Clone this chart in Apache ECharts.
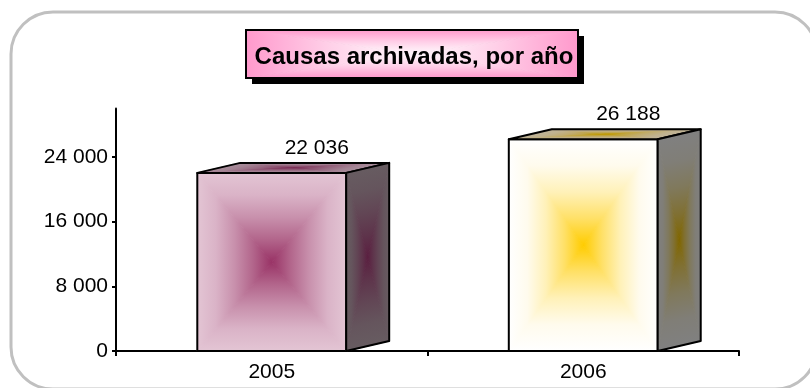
<!DOCTYPE html>
<html>
<head>
<meta charset="utf-8">
<script src="https://cdn.jsdelivr.net/npm/echarts@6/dist/echarts.min.js"></script>
<style>
  html, body { margin: 0; padding: 0; background: #fff; }
  #chart { width: 810px; height: 388px; }
</style>
</head>
<body>
<div id="chart"></div>
<script>
const chartTitle = 'Causas archivadas, por año';
const years = ['2005', '2006'];
const archived = [22036, 26188];
const yTicks = [0, 8000, 16000, 24000];

const FONT = '"Liberation Sans", Arial, sans-serif';
const DEPTH_X = 43, DEPTH_Y = 10;

// edge and centre colour of each face, [front, top, side]
const barShades = [
  [['#e3c5d4', '#993366'], ['#a98f9c', '#7a2c55'], ['#675c61', '#5a1f40']],
  [['#ffffff', '#ffcc00'], ['#c0b49a', '#bf9900'], ['#808080', '#806600']],
];
const titleShade = ['#ff99cc', '#fff4fa'];
// how fast the colour moves towards the centre, at offsets 0, .25, .5, .75, 1
const barCurves = [[0, 0.12, 0.36, 0.66, 1], [0, 0.07, 0.28, 0.6, 1]];
const titleCurve = [0, 0.3, 0.6, 0.85, 1];

const groupNumber = v => String(v).replace(/\B(?=(\d{3})+$)/g, ' ');

function mix(c0, c1, t) {
  const ch = (c, k) => parseInt(c.substr(1 + k * 2, 2), 16);
  const out = [0, 1, 2].map(k => Math.round(ch(c0, k) + (ch(c1, k) - ch(c0, k)) * t));
  return 'rgb(' + out.join(',') + ')';
}

// one triangle of a "box" gradient: pale along edge a-b, darkest at the centre c
function wedge(a, b, c, colors, curve) {
  const ex = b[0] - a[0], ey = b[1] - a[1];
  const t = ((c[0] - a[0]) * ex + (c[1] - a[1]) * ey) / (ex * ex + ey * ey);
  const fill = {
    type: 'linear', global: true,
    x: a[0] + t * ex, y: a[1] + t * ey, x2: c[0], y2: c[1],
    colorStops: curve.map((m, k) => ({ offset: k / 4, color: mix(colors[0], colors[1], m) })),
  };
  // thin stroke in the same gradient hides the seams between triangles
  return {
    type: 'polygon',
    shape: { points: [a, b, c] },
    style: { fill: fill, stroke: fill, lineWidth: 1 },
  };
}

function wedges(pts, colors, curve) {
  const c = [(pts[0][0] + pts[2][0]) / 2, (pts[0][1] + pts[2][1]) / 2];
  return pts.map((p, i) => wedge(p, pts[(i + 1) % 4], c, colors, curve));
}

// quad with the box gradient and a black outline on top
function face(pts, colors, curve) {
  return wedges(pts, colors, curve).concat({
    type: 'polygon',
    shape: { points: pts },
    style: { fill: 'none', stroke: '#000', lineWidth: 2, lineJoin: 'round' },
  });
}

function renderBox(params, api) {
  const i = api.value(0);
  const top = api.coord([i, api.value(1)]);
  const base = api.coord([i, 0]);
  const w = api.size([1, 0])[0] * 0.478;
  const l = top[0] - w / 2, r = top[0] + w / 2;
  const dx = DEPTH_X, dy = DEPTH_Y;
  const shades = barShades[i];
  const curve = barCurves[i];
  return {
    type: 'group',
    children: [
      ...face([[l, top[1]], [r, top[1]], [r, base[1]], [l, base[1]]], shades[0], curve),
      ...face([[l, top[1]], [l + dx, top[1] - dy], [r + dx, top[1] - dy], [r, top[1]]], shades[1], curve),
      ...face([[r, top[1]], [r + dx, top[1] - dy], [r + dx, base[1] - dy], [r, base[1]]], shades[2], curve),
      {
        type: 'text',
        style: {
          x: top[0] + 45, y: top[1] - dy - 15,
          text: groupNumber(api.value(1)),
          font: '21px ' + FONT,
          fill: '#000', align: 'center', verticalAlign: 'middle',
        },
      },
    ],
  };
}

const titleBox = [[246, 30], [578, 30], [578, 78], [246, 78]];

const chart = echarts.init(document.getElementById('chart'), null, { renderer: 'canvas' });
chart.setOption({
  animation: false,
  backgroundColor: '#fff',
  title: {
    text: chartTitle,
    left: 409, top: 52, textAlign: 'center', textVerticalAlign: 'middle',
    z: 100,
    textStyle: { fontFamily: FONT, fontSize: 24, fontWeight: 'bold', color: '#000' },
  },
  graphic: [
    {
      type: 'rect', silent: true, z: -10,
      shape: { x: 11, y: 12, width: 806, height: 377, r: 42 },
      style: { fill: '#fff', stroke: '#c0c0c0', lineWidth: 3 },
    },
    {
      type: 'rect', silent: true, z: 1,
      shape: { x: 252, y: 36, width: 332, height: 48 },
      style: { fill: '#000' },
    },
    {
      type: 'group', silent: true, z: 2,
      children: wedges(titleBox, titleShade, titleCurve).map(w => Object.assign(w, { z: 2 })),
    },
    {
      type: 'polygon', silent: true, z: 3,
      shape: { points: titleBox },
      style: { fill: 'none', stroke: '#000', lineWidth: 2 },
    },
  ],
  grid: { left: 116, right: 71, top: 108.5, bottom: 37 },
  xAxis: {
    type: 'category',
    data: years,
    axisLine: { lineStyle: { color: '#000', width: 2 } },
    axisTick: { show: true, length: 5, lineStyle: { color: '#000', width: 2 } },
    axisLabel: { color: '#000', fontFamily: FONT, fontSize: 21, margin: 11 },
  },
  yAxis: {
    type: 'value',
    min: 0, max: 30000,
    axisLine: { show: true, lineStyle: { color: '#000', width: 2 } },
    axisTick: { show: true, length: 4, customValues: yTicks, lineStyle: { color: '#000', width: 2 } },
    axisLabel: {
      color: '#000', fontFamily: FONT, fontSize: 21, margin: 8,
      customValues: yTicks, formatter: groupNumber,
    },
    splitLine: { show: false },
  },
  series: [{
    type: 'custom',
    renderItem: renderBox,
    data: archived.map((v, i) => [i, v]),
    encode: { x: 0, y: 1 },
    clip: false,
  }],
});
</script>
</body>
</html>
